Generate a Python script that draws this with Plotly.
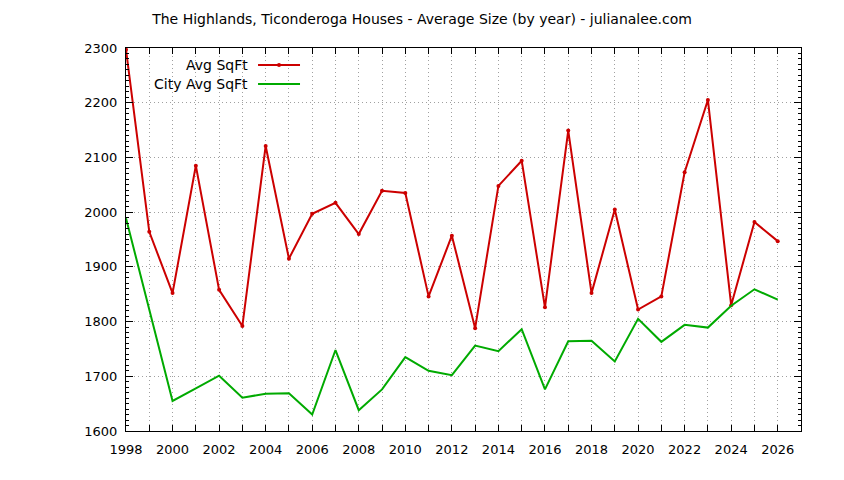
import plotly.graph_objects as go

years = list(range(1998, 2027))
avg_sqft = [2297, 1964, 1852, 2085, 1858, 1792, 2121, 1915, 1997, 2017,
            1960, 2039, 2035, 1846, 1957, 1788, 2048, 2094, 1826, 2149,
            1852, 2005, 1822, 1846, 2073, 2205, 1830, 1982, 1947]
city_avg_sqft = [1989, 1820, 1655, 1678, 1701, 1661, 1668, 1669, 1630, 1748,
                 1638, 1676, 1735, 1710, 1702, 1756, 1746, 1786, 1676, 1764,
                 1765, 1727, 1805, 1763, 1794, 1789, 1829, 1859, 1840]
series_names = ["Avg SqFt", "City Avg SqFt"]
title_text = "The Highlands, Ticonderoga Houses - Average Size (by year) - julianalee.com"
x_tick_vals = list(range(1998, 2028))
x_tick_text = [str(y) if y % 2 == 0 else "" for y in x_tick_vals]
y_tick_vals = list(range(1600, 2301, 100))

RED = "#cc0000"
GREEN = "#00aa00"
FONT = "DejaVu Sans"

fig = go.Figure()
fig.add_trace(go.Scatter(x=years, y=avg_sqft, mode="lines+markers", name=series_names[0],
                         line=dict(color=RED, width=2), marker=dict(color=RED, size=4),
                         showlegend=False))
fig.add_trace(go.Scatter(x=years, y=city_avg_sqft, mode="lines", name=series_names[1],
                         line=dict(color=GREEN, width=2), showlegend=False))

# manual gnuplot-style legend (text left of sample)
leg_rows = [(series_names[0], RED, True, 0.9556), (series_names[1], GREEN, False, 0.906)]
for name, col, mk, yy in leg_rows:
    fig.add_annotation(x=0.1835, y=yy, xref="paper", yref="paper", text=name,
                       showarrow=False, xanchor="right", yanchor="middle",
                       font=dict(family=FONT, size=14, color="black"))
    fig.add_shape(type="line", xref="paper", yref="paper", x0=0.1956, x1=0.2578,
                  y0=yy, y1=yy, line=dict(color=col, width=2))
    if mk:
        fig.add_shape(type="circle", xref="paper", yref="paper",
                      x0=0.2267 - 0.003, x1=0.2267 + 0.003,
                      y0=yy - 0.0052, y1=yy + 0.0052,
                      fillcolor=col, line=dict(color=col, width=0))

axis_common = dict(showline=True, linecolor="black", linewidth=1, mirror="allticks",
                   ticks="inside", tickcolor="black", zeroline=False,
                   showgrid=True, gridcolor="#a0a0a0", griddash="1px,3px", gridwidth=1,
                   tickfont=dict(family=FONT, size=13, color="black"))

fig.update_xaxes(range=[1998, 2027], tickmode="array", tickvals=x_tick_vals,
                 ticktext=x_tick_text, ticklen=6, ticklabelstandoff=6, **axis_common)
fig.update_yaxes(range=[1600, 2300], tickmode="array", tickvals=y_tick_vals, ticklen=7,
                 ticklabelstandoff=5,
                 minor=dict(dtick=10, tick0=1600, ticks="inside", ticklen=3,
                            tickcolor="black", showgrid=False),
                 **axis_common)

fig.update_layout(
    width=844, height=480,
    margin=dict(l=126, r=43, t=48, b=49),
    paper_bgcolor="white", plot_bgcolor="white",
    title=dict(text=title_text, x=0.5, xref="container", xanchor="center",
               y=1 - 19 / 480, yref="container", yanchor="middle",
               font=dict(family=FONT, size=14, color="black")),
    font=dict(family=FONT, size=13, color="black"),
)

fig.write_html("out.html", config={"displayModeBar": False},
               post_script="document.body.style.margin='0';document.body.style.padding='0';")
